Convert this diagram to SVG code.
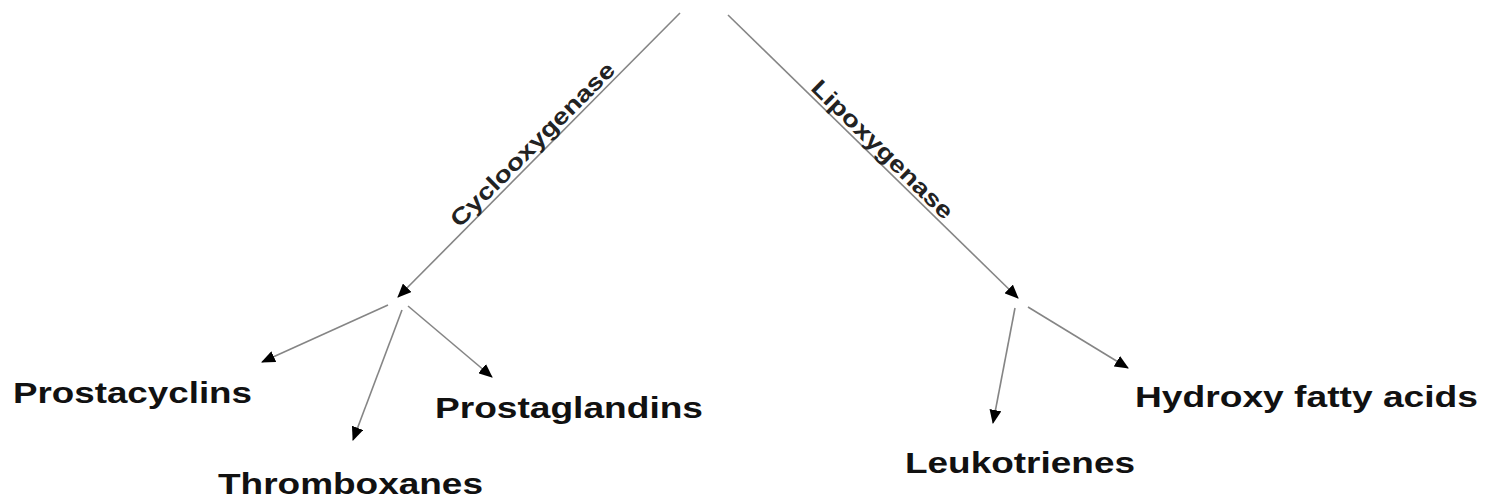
<svg xmlns="http://www.w3.org/2000/svg" width="1489" height="499" viewBox="0 0 1489 499">
<defs>
<marker id="ah" markerUnits="userSpaceOnUse" markerWidth="14" markerHeight="12" viewBox="0 0 14 12" refX="13" refY="6" orient="auto">
<path d="M0,0 L14,6 L0,12 Z" fill="#000"/>
</marker>
</defs>
<style>
.c{stroke:#858585;stroke-width:1.6;fill:none;marker-end:url(#ah)}
.l{font-family:"Liberation Sans",Arial,sans-serif;font-weight:bold;font-size:30px;fill:#111}
.e{font-family:"Liberation Sans",Arial,sans-serif;font-weight:bold;font-size:23px;fill:#222}
</style>
<rect width="1489" height="499" fill="#fff"/>
<g id="connectors">
<line class="c" x1="680" y1="13" x2="398" y2="297"/>
<line class="c" x1="728" y1="15" x2="1018" y2="298"/>
<line class="c" x1="388" y1="305" x2="262" y2="362"/>
<line class="c" x1="402" y1="310" x2="353" y2="440"/>
<line class="c" x1="408" y1="306" x2="492" y2="377"/>
<line class="c" x1="1015" y1="308" x2="993" y2="423"/>
<line class="c" x1="1028" y1="307" x2="1128" y2="368"/>
</g>
<g id="edge-labels">
<text class="e" x="538" y="150" text-anchor="middle" textLength="222" lengthAdjust="spacingAndGlyphs" transform="rotate(-45 538 150)">Cyclooxygenase</text>
<text class="e" x="877" y="155" text-anchor="middle" textLength="188" lengthAdjust="spacingAndGlyphs" transform="rotate(44.3 877 155)">Lipoxygenase</text>
</g>
<g id="prostacyclins"><text class="l" x="13" y="403" textLength="239" lengthAdjust="spacingAndGlyphs">Prostacyclins</text></g>
<g id="thromboxanes"><text class="l" x="218" y="494" textLength="265" lengthAdjust="spacingAndGlyphs">Thromboxanes</text></g>
<g id="prostaglandins"><text class="l" x="435" y="418" textLength="268" lengthAdjust="spacingAndGlyphs">Prostaglandins</text></g>
<g id="leukotrienes"><text class="l" x="905" y="473" textLength="230" lengthAdjust="spacingAndGlyphs">Leukotrienes</text></g>
<g id="hydroxy-fatty-acids"><text class="l" x="1135" y="407" textLength="343" lengthAdjust="spacingAndGlyphs">Hydroxy fatty acids</text></g>
</svg>
